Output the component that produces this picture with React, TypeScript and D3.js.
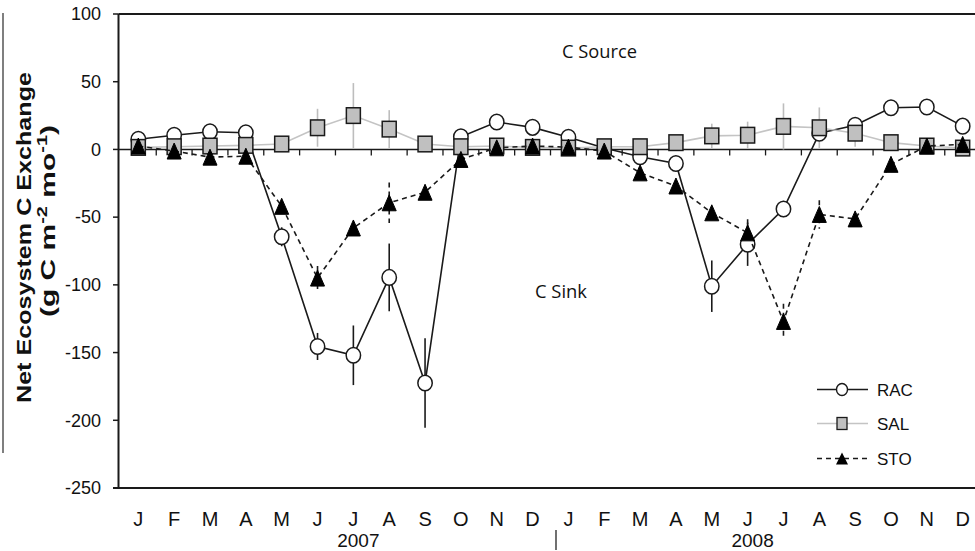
import React from "react";
import * as d3 from "d3";

const months = ["J","F","M","A","M","J","J","A","S","O","N","D","J","F","M","A","M","J","J","A","S","O","N","D"];
const yearLabels = ["2007", "2008"];
const yTicks = [100, 50, 0, -50, -100, -150, -200, -250];

const racValues = [7.5, 10.5, 13, 12.3, -64.5, -145.5, -152, -94.5, -172.5, 9.4, 20.2, 16.3,
  9, 1, -5.4, -10.4, -101, -70, -44, 12, 17.8, 30.8, 31.3, 17.2];
const racErrors = [0, 0, 0, 0, 7, 10, 22, 25, 33, 0, 0, 0,
  0, 0, 0, 0, 19, 16, 6, 0, 4, 0, 0, 0];

const salValues = [1.5, 2, 2.5, 3, 4, 16, 25, 15, 4, 2, 2.5, 1.5,
  1, 2, 2, 5, 10, 10.5, 17, 16, 12, 5, 2.5, 1];
const salErrors = [0, 0, 0, 0, 0, 14, 24, 14, 0, 0, 0, 0,
  0, 0, 0, 0, 9, 10, 17, 15, 10, 0, 0, 0];

const stoValues = [2.5, -1.2, -5.7, -5, -42, -95, -58, -39.4, -31.6, -7.4, 1.2, 2.5,
  1.7, -1.2, -17.3, -27, -46.8, -61.6, -127, -48, -51.3, -11, 2.5, 3.7];
const stoErrors = [0, 0, 0, 0, 0, 9, 0, 15, 0, 0, 0, 0,
  0, 0, 0, 0, 4, 10, 13, 10.5, 0, 0, 0, 0];

const legendItems = ["RAC", "SAL", "STO"];

const W = 975, H = 551;
const FONT = "'Liberation Sans', Arial, sans-serif";
const INK = "#1a1a1a";

export default function App() {
  const idx = months.map((_, i) => i);
  const x = d3.scaleBand<number>().domain(idx).range([120.4, 980.6]).paddingInner(0).paddingOuter(0);
  const cx = (i: number) => (x(i) as number) + x.bandwidth() / 2;
  const y = d3.scaleLinear().domain([-250, 100]).range([488, 14]);
  const axisX = 118.5;
  const line = d3.line<number>().x((_, i) => cx(i)).y((d) => y(d));

  const errBars = (vals: number[], errs: number[], color: string, dash?: string) =>
    vals.map((v, i) =>
      errs[i] > 0 ? (
        <line key={i} x1={cx(i)} x2={cx(i)} y1={y(v + errs[i])} y2={y(v - errs[i])}
          stroke={color} strokeWidth={1.6} strokeDasharray={dash} />
      ) : null
    );

  const tri = (px: number, py: number, w: number, h: number) =>
    `M${px},${py - h / 2}L${px + w / 2},${py + h / 2}L${px - w / 2},${py + h / 2}Z`;

  const legendY = [389.5, 423.5, 458.5];

  return (
    <svg width={W} height={H} style={{ position: "absolute", left: 0, top: 0, background: "#fff" }}
      fontFamily={FONT}>
      <rect width={W} height={H} fill="#fff" />
      {/* left frame remnant */}
      <line x1={3} x2={3} y1={13} y2={453} stroke="#555" strokeWidth={1.5} />

      {/* frame */}
      <line x1={axisX} x2={W} y1={y(100)} y2={y(100)} stroke={INK} strokeWidth={2} />
      <line x1={113} x2={W} y1={y(-250)} y2={y(-250)} stroke={INK} strokeWidth={2} />
      <line x1={axisX} x2={axisX} y1={y(100)} y2={y(-250)} stroke={INK} strokeWidth={2} />

      {/* y ticks */}
      {yTicks.map((t) => (
        <g key={t}>
          <line x1={113} x2={axisX} y1={y(t)} y2={y(t)} stroke={INK} strokeWidth={1.5} />
          <text x={101} y={y(t)} dy="0.35em" textAnchor="end" fontSize={18} fill="#111">{t}</text>
        </g>
      ))}

      {/* zero axis */}
      <line x1={axisX} x2={W} y1={y(0)} y2={y(0)} stroke={INK} strokeWidth={1.6} />
      {idx.slice(1).map((i) => (
        <line key={i} x1={x(i) as number} x2={x(i) as number} y1={y(0)} y2={y(0) + 6} stroke={INK} strokeWidth={1.3} />
      ))}

      {/* month labels */}
      {months.map((m, i) => (
        <text key={i} x={cx(i)} y={526} textAnchor="middle" fontSize={20} fill="#111">{m}</text>
      ))}
      <text x={cx(6) + 5} y={547} textAnchor="middle" fontSize={19} fill="#111">{yearLabels[0]}</text>
      <text x={cx(17) + 5} y={547} textAnchor="middle" fontSize={19} fill="#111">{yearLabels[1]}</text>
      <line x1={(x(12) as number) + 5.5} x2={(x(12) as number) + 5.5} y1={530} y2={550} stroke="#111" strokeWidth={1.2} />

      {/* y label */}
      <text transform="translate(31,237.5) rotate(-90)" textAnchor="middle" fontSize={21} fontWeight="bold"
        fill="#111" textLength={331} lengthAdjust="spacingAndGlyphs">Net Ecosystem C Exchange</text>
      <text transform="translate(55,221) rotate(-90)" textAnchor="middle" fontSize={21} fontWeight="bold"
        fill="#111" textLength={192} lengthAdjust="spacingAndGlyphs">
        (g C m<tspan fontSize={14} dy={-8}>-2</tspan><tspan dy={8}> mo</tspan><tspan fontSize={14} dy={-8}>-1</tspan><tspan dy={8}>)</tspan>
      </text>

      {/* annotations */}
      <text x={562} y={58} fontFamily="'Open Sans', sans-serif" fontSize={18} fill="#111"
        textLength={75} lengthAdjust="spacingAndGlyphs">C Source</text>
      <text x={535} y={297.5} fontFamily="'Open Sans', sans-serif" fontSize={18} fill="#111"
        textLength={52} lengthAdjust="spacingAndGlyphs">C Sink</text>

      {/* error bars */}
      {errBars(salValues, salErrors, "#bdbdbd")}
      {errBars(racValues, racErrors, INK)}
      {errBars(stoValues, stoErrors, INK, "5,4")}

      {/* RAC */}
      <path d={line(racValues) || ""} fill="none" stroke={INK} strokeWidth={1.6} />
      {racValues.map((v, i) => (
        <ellipse key={i} cx={cx(i)} cy={y(v)} rx={7.2} ry={7.8} fill="#fff" stroke={INK} strokeWidth={1.5} />
      ))}

      {/* SAL */}
      <path d={line(salValues) || ""} fill="none" stroke="#c4c4c4" strokeWidth={1.6} />
      {salValues.map((v, i) => (
        <rect key={i} x={cx(i) - 7} y={y(v) - 7.8} width={14} height={15.6} fill="#c0c0c0" stroke={INK} strokeWidth={1.5} />
      ))}

      {/* STO */}
      <path d={line(stoValues) || ""} fill="none" stroke={INK} strokeWidth={1.6} strokeDasharray="5,4" />
      {stoValues.map((v, i) => (
        <path key={i} d={tri(cx(i), y(v), 14, 16)} fill="#000" stroke="#000" strokeWidth={1} />
      ))}

      {/* legend */}
      <g>
        <line x1={817} x2={868} y1={legendY[0]} y2={legendY[0]} stroke={INK} strokeWidth={1.5} />
        <ellipse cx={842} cy={legendY[0]} rx={5.5} ry={6} fill="#fff" stroke={INK} strokeWidth={1.4} />
        <line x1={817} x2={868} y1={legendY[1]} y2={legendY[1]} stroke="#c4c4c4" strokeWidth={1.5} />
        <rect x={837} y={legendY[1] - 6} width={10} height={12} fill="#c0c0c0" stroke={INK} strokeWidth={1.3} />
        <line x1={817} x2={868} y1={legendY[2]} y2={legendY[2]} stroke={INK} strokeWidth={1.5} strokeDasharray="5,4" />
        <path d={tri(842, legendY[2], 12, 12)} fill="#000" />
        {legendItems.map((t, k) => (
          <text key={t} x={877} y={legendY[k]} dy="0.36em" fontSize={17} fill="#111">{t}</text>
        ))}
      </g>
    </svg>
  );
}
